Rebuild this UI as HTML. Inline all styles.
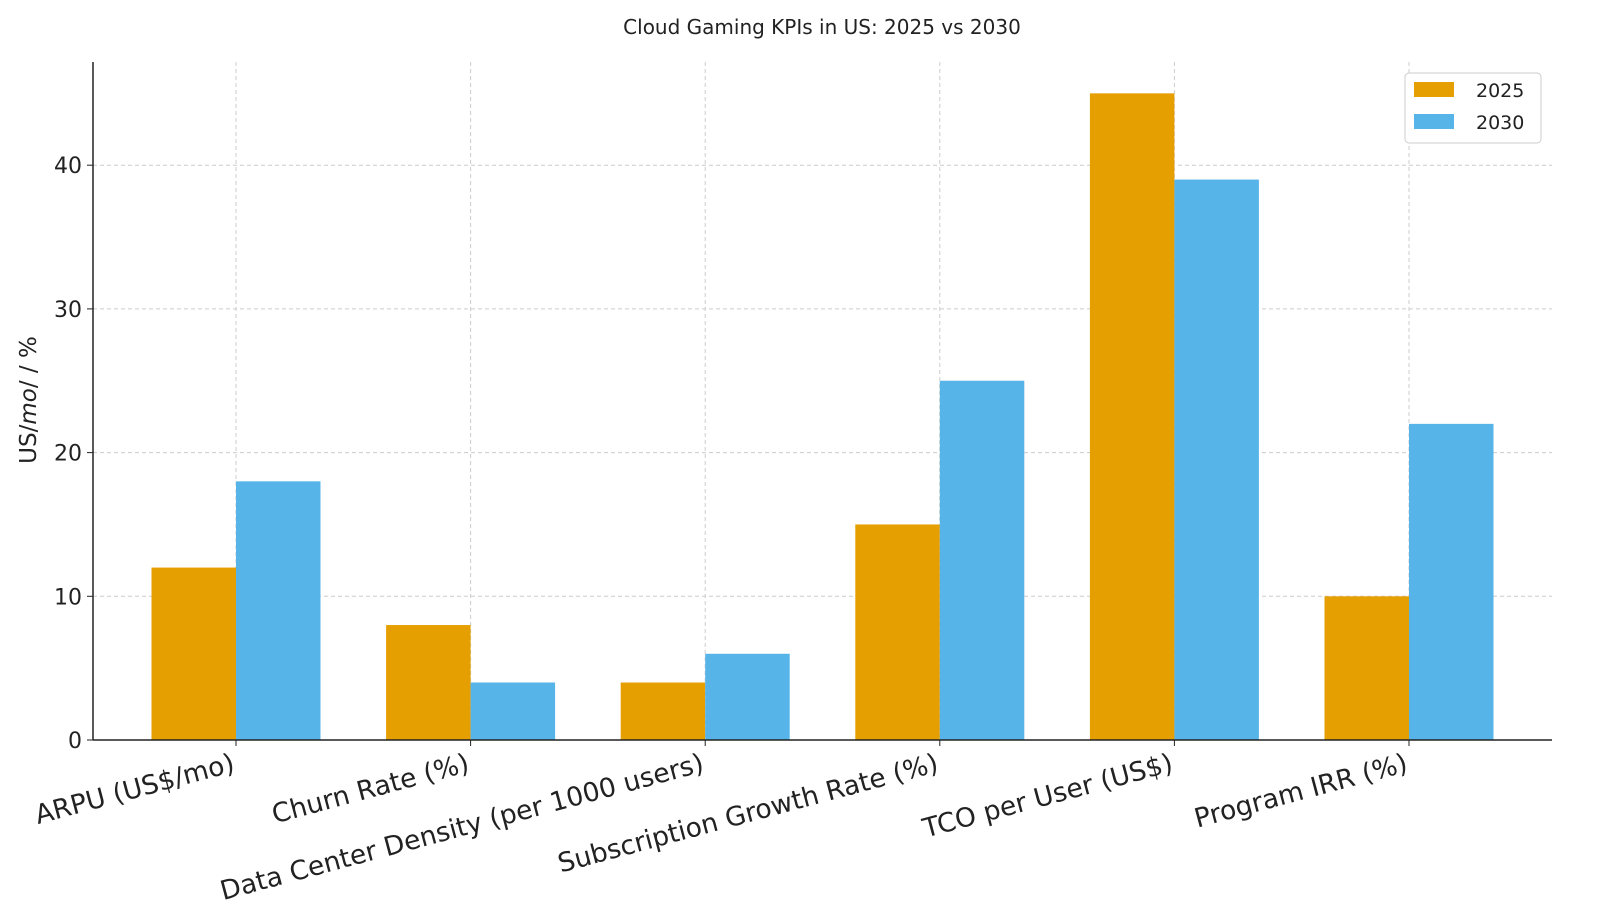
<!DOCTYPE html>
<html><head><meta charset="utf-8"><style>
body{margin:0;background:#fff;}
svg{display:block;font-family:"DejaVu Sans","Liberation Sans",sans-serif;}
</style></head><body>
<svg id="chart" width="1600" height="911">
<text x="822" y="34" text-anchor="middle" font-size="20" fill="#222">Cloud Gaming KPIs in US: 2025 vs 2030</text>
<g id="grid"></g><g id="bars"></g><g id="axes"></g>
<text transform="translate(36,400) rotate(-90)" text-anchor="middle" font-size="23" fill="#222">US/<tspan font-style="italic">mo</tspan>/ / %</text>
<g>
<rect x="1405" y="73" width="136" height="70" rx="4" fill="#fff" stroke="#ccc"/>
<rect x="1414" y="82" width="40" height="15" fill="#E69F00"/>
<text x="1476" y="97" font-size="19" fill="#222">2025</text>
<rect x="1414" y="114" width="40" height="15" fill="#56B4E9"/>
<text x="1476" y="129" font-size="19" fill="#222">2030</text>
</g>
</svg>
<script>
const categories=["ARPU (US$/mo)","Churn Rate (%)","Data Center Density (per 1000 users)","Subscription Growth Rate (%)","TCO per User (US$)","Program IRR (%)"];
const values2025=[12,8,4,15,45,10];
const values2030=[18,4,6,25,39,22];
const yTicks=[0,10,20,30,40];
const NS="http://www.w3.org/2000/svg";
const L=93,R=1552,T=62,B=740;
const y=v=>B-v*14.37;
const x=i=>236+i*234.6;
const bw=84.5;
function mk(t,a,p){const e=document.createElementNS(NS,t);for(const k in a)e.setAttribute(k,a[k]);p.appendChild(e);return e;}
const grid=document.getElementById('grid'),bars=document.getElementById('bars'),axes=document.getElementById('axes');
yTicks.forEach(v=>{
 if(v>0){const g=mk('line',{x1:L,x2:R,y1:y(v),y2:y(v),stroke:'#ccc','stroke-dasharray':'4,3'},grid);
 
 }
 mk('line',{x1:L-6,x2:L,y1:y(v),y2:y(v),stroke:'#222'},axes);
 const t=mk('text',{x:L-11,y:y(v)+8,'text-anchor':'end','font-size':'22',fill:'#222'},axes);t.textContent=v;
 
 
});
categories.forEach((c,i)=>{
 const g=mk('line',{x1:x(i),x2:x(i),y1:T,y2:B,stroke:'#ccc','stroke-dasharray':'4,3'},grid);
 
 
 const b1=mk('rect',{x:x(i)-bw,y:y(values2025[i]),width:bw,height:B-y(values2025[i]),fill:'#E69F00'},bars);
 
 
 const b2=mk('rect',{x:x(i),y:y(values2030[i]),width:bw,height:B-y(values2030[i]),fill:'#56B4E9'},bars);
 
 
 mk('line',{x1:x(i),x2:x(i),y1:B,y2:B+6,stroke:'#222'},axes);
 const t=mk('text',{transform:`translate(${x(i)},${B+31}) rotate(-15)`,'text-anchor':'end','font-size':'26.5',fill:'#222'},axes);t.textContent=c;
 
 
});
mk('line',{x1:L,x2:L,y1:T,y2:B,stroke:'#222','stroke-width':1.5},axes);
mk('line',{x1:L,x2:R,y1:B,y2:B,stroke:'#222','stroke-width':1.5},axes);
</script>
</body></html>
